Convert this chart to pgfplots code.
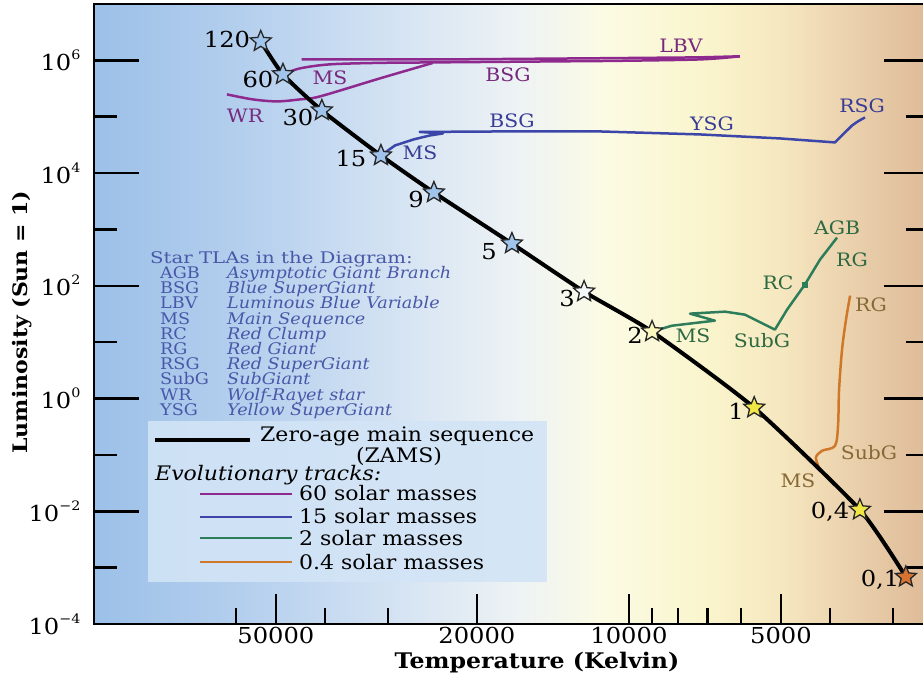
\documentclass[border=0pt]{standalone}
\usepackage{pgfplots}
\pgfplotsset{compat=1.18}
\usepackage{fontspec}
\setmainfont{DejaVu Serif}[FakeStretch=1.1]

% background gradient stops (blue -> white -> yellow -> tan)
\definecolor{bg0}{RGB}{156,192,232}
\definecolor{bg1}{RGB}{182,208,238}
\definecolor{bg2}{RGB}{214,228,243}
\definecolor{bg3}{RGB}{238,243,244}
\definecolor{bg4}{RGB}{251,251,228}
\definecolor{bg5}{RGB}{250,245,205}
\definecolor{bg6}{RGB}{246,232,192}
\definecolor{bg7}{RGB}{234,208,172}
\definecolor{bg8}{RGB}{222,186,152}
% evolutionary tracks
\definecolor{trkA}{RGB}{142,42,142}
\definecolor{trkB}{RGB}{60,70,168}
\definecolor{trkC}{RGB}{46,125,90}
\definecolor{trkD}{RGB}{208,120,42}
\definecolor{lblA}{RGB}{120,40,125}
\definecolor{lblB}{RGB}{55,60,150}
\definecolor{lblC}{RGB}{45,105,65}
\definecolor{lblD}{RGB}{135,105,55}
\definecolor{tla}{RGB}{72,88,168}
% star fills
\definecolor{starblue}{RGB}{160,196,236}
\definecolor{starwhite}{RGB}{245,248,250}
\definecolor{starpale}{RGB}{250,248,190}
\definecolor{staryel}{RGB}{240,230,70}
\definecolor{starorg}{RGB}{215,115,50}
\definecolor{legbox}{RGB}{210,228,246}

\pgfdeclarehorizontalshading{hrbg}{100bp}{color(0bp)=(bg0); color(25bp)=(bg0); color(34.5bp)=(bg1); color(43.5bp)=(bg2); color(50.5bp)=(bg3); color(55.5bp)=(bg4); color(61.5bp)=(bg5); color(66bp)=(bg6); color(70.5bp)=(bg7); color(75bp)=(bg8); color(100bp)=(bg8)}

% filled five-pointed star
\pgfdeclareplotmark{fivestar}{%
  \pgfpathmoveto{\pgfpointpolar{90}{\pgfplotmarksize}}%
  \pgfpathlineto{\pgfpointpolar{126}{0.45\pgfplotmarksize}}%
  \pgfpathlineto{\pgfpointpolar{162}{\pgfplotmarksize}}%
  \pgfpathlineto{\pgfpointpolar{198}{0.45\pgfplotmarksize}}%
  \pgfpathlineto{\pgfpointpolar{234}{\pgfplotmarksize}}%
  \pgfpathlineto{\pgfpointpolar{270}{0.45\pgfplotmarksize}}%
  \pgfpathlineto{\pgfpointpolar{306}{\pgfplotmarksize}}%
  \pgfpathlineto{\pgfpointpolar{342}{0.45\pgfplotmarksize}}%
  \pgfpathlineto{\pgfpointpolar{18}{\pgfplotmarksize}}%
  \pgfpathlineto{\pgfpointpolar{54}{0.45\pgfplotmarksize}}%
  \pgfpathclose
  \pgfusepathqfillstroke
}
% power-of-ten tick label
\newcommand{\tenpow}[1]{10\raisebox{0.5em}{\fontsize{13}{13}\selectfont #1}}

\begin{document}
\begin{tikzpicture}
\begin{axis}[
  at={(0pt,0pt)}, anchor=south west,
  scale only axis, width=835pt, height=620pt,
  xmode=log, ymode=log, x dir=reverse,
  xmin=2547, xmax=114600, ymin=1e-4, ymax=1e7,
  clip=false,
  axis background/.style={shading=hrbg},
  axis line style={line width=2.6pt, black},
  tick align=inside,
  xtick pos=left, ytick pos=both,
  xtick={5000,10000,20000,50000},
  xticklabels={5000,10000,20000,50000},
  minor xtick={3000,4000,6000,7000,8000,9000,30000,40000,60000},
  ytick={1e-4,1e-2,1,1e2,1e4,1e6},
  yticklabels={\tenpow{−4},\tenpow{−2},\tenpow{0},\tenpow{2},\tenpow{4},\tenpow{6}},
  minor ytick={1e-3,1e-1,10,1e3,1e5},
  every tick/.style={black, line width=2.6pt},
  x tick style={/pgfplots/major tick length=30pt, /pgfplots/minor tick length=16pt},
  y tick style={/pgfplots/major tick length=45pt, /pgfplots/minor tick length=23pt},
  tick label style={font=\fontsize{22}{22}\selectfont},
  yticklabel style={xshift=-10pt},
  xlabel={Temperature (Kelvin)},
  ylabel={Luminosity (Sun = 1)},
  every axis x label/.style={at={(axis description cs:0.5305,0)}, anchor=center, yshift=-39pt, font=\fontsize{21.5}{21.5}\selectfont\bfseries},
  every axis y label/.style={at={(axis description cs:-0.0862,0.487)}, anchor=center, rotate=90, font=\fontsize{20}{20}\selectfont\bfseries},
]
% 60 solar masses
\addplot[trkA, line width=2.5pt, smooth] coordinates {(48420,5.64e5) (44800,7.21e5) (39080,8.5e5) (31120,9.03e5) (24450,9.2e5) (13900,9.6e5) (10660,9.8e5) (7230,1.04e6) (6030,1.18e6)};
\addplot[trkA, line width=2.5pt] coordinates {(6030,1.18e6) (7230,1.13e6) (11410,1.09e6) (22600,1.04e6) (44460,1.04e6)};
\addplot[trkA, line width=2.5pt, smooth] coordinates {(24450,9.0e5) (31120,4.79e5) (40920,2.29e5) (44800,2.03e5) (49770,1.87e5) (55570,2.03e5) (62510,2.49e5)};
% 15 solar masses
\addplot[trkB, line width=2.5pt, line join=round] coordinates {(30980,2.05e4) (29060,3.09e4) (26680,3.96e4) (24780,4.65e4) (23350,5.05e4) (25960,5.37e4) (17990,5.48e4) (11410,5.48e4) (7230,4.85e4) (5023,4.12e4) (3909,3.50e4) (3735,5.26e4) (3617,7.0e4) (3522,8.26e4) (3410,9.73e4)};
% 2 solar masses
\addplot[trkC, line width=2.5pt, line join=round] coordinates {(9000,15.4) (8222,19.6) (6760,24.1) (7570,32.1) (6457,34.8) (5893,30.8) (5140,16.7) (4864,37.8) (4485,105) (4185,292) (3873,718)};
\addplot[trkC, only marks, mark=square*, mark size=2.5pt] coordinates {(4485,105)};
% 0.4 solar masses
\addplot[trkD, line width=2.5pt, smooth] coordinates {(4185,0.0543) (4265,0.0887) (4150,0.118) (3909,0.145) (3855,0.343) (3838,1.43) (3786,7.36) (3718,25.1) (3649,67)};
% zero-age main sequence
\addplot[black, line width=4pt, smooth, tension=0.35] coordinates {(53580,2.17e6) (48420,5.64e5) (40550,1.29e5) (30980,2.05e4) (24330,4520) (17050,562) (12270,78.8) (9000,15.4) (5650,0.687) (3490,0.0106) (2830,6.84e-4)};
% stars on the ZAMS
\addplot[only marks, mark=fivestar, mark size=11pt, mark options={fill=starblue, draw=black!85, line width=1.3pt}] coordinates {(53580,2.17e6) (48420,5.64e5) (40550,1.29e5) (30980,2.05e4) (24330,4520) (17050,562)};
\addplot[only marks, mark=fivestar, mark size=11pt, mark options={fill=starwhite, draw=black!85, line width=1.3pt}] coordinates {(12270,78.8)};
\addplot[only marks, mark=fivestar, mark size=11pt, mark options={fill=starpale, draw=black!85, line width=1.3pt}] coordinates {(9000,15.4)};
\addplot[only marks, mark=fivestar, mark size=11pt, mark options={fill=staryel, draw=black!85, line width=1.3pt}] coordinates {(5650,0.687) (3490,0.0106)};
\addplot[only marks, mark=fivestar, mark size=11pt, mark options={fill=starorg, draw=black!85, line width=1.3pt}] coordinates {(2830,6.84e-4)};
\end{axis}

\begin{scope}[x=1pt, y=-1pt, shift={(-94pt,624pt)}]
  % mass labels next to the stars
  \begin{scope}[every node/.style={anchor=base, font=\fontsize{22}{22}\selectfont, inner sep=0pt}]
    \node at (227,48) {120};
    \node at (258,88) {60};
    \node at (298,126) {30};
    \node at (351,167) {15};
    \node at (416,208) {9};
    \node at (489,260) {5};
    \node at (567,307) {3};
    \node at (635,344) {2};
    \node at (736,420) {1};
    \node at (830,519) {0,4};
    \node at (880,586) {0,1};
  \end{scope}
  % phase labels along the tracks
  \begin{scope}[every node/.style={anchor=base, font=\fontsize{18.5}{18.5}\selectfont, inner sep=0pt}]
    \node[lblA] at (681,53) {LBV};
    \node[lblA] at (508,82) {BSG};
    \node[lblA] at (330,85) {MS};
    \node[lblA] at (245,123) {WR};
    \node[lblB] at (512,128) {BSG};
    \node[lblB] at (420,160) {MS};
    \node[lblB] at (712,131) {YSG};
    \node[lblB] at (862,113) {RSG};
    \node[lblC] at (837,235) {AGB};
    \node[lblC] at (852,267) {RG};
    \node[lblC] at (778,290) {RC};
    \node[lblC] at (693,343) {MS};
    \node[lblC] at (762,348) {SubG};
    \node[lblD] at (871,312) {RG};
    \node[lblD] at (869,460) {SubG};
    \node[lblD] at (798,488) {MS};
  \end{scope}
  % abbreviation list
  \begin{scope}[every node/.style={anchor=base west, tla, font=\fontsize{16}{16}\selectfont, inner sep=0pt}]
    \node at (150,264) {\scalebox{1.12}[1]{Star TLAs in the Diagram:}};
    \foreach \ab/\txt [count=\i from 0] in {AGB/Asymptotic Giant Branch, BSG/Blue SuperGiant, LBV/Luminous Blue Variable, MS/Main Sequence, RC/Red Clump, RG/Red Giant, RSG/Red SuperGiant, SubG/SubGiant, WR/Wolf-Rayet star, YSG/Yellow SuperGiant}{
      \node at (160,278.5+15.2*\i) {\ab};
      \node at (227,278.5+15.2*\i) {\itshape\txt};
    }
  \end{scope}
  % legend
  \fill[legbox, opacity=0.9] (148,421) rectangle (547,582);
  \draw[black, line width=4pt] (155,440) -- (250,440);
  \begin{scope}[every node/.style={font=\fontsize{20}{20}\selectfont, inner sep=0pt}]
    \node[anchor=base west] at (260,442) {Zero-age main sequence};
    \node[anchor=base] at (399,463) {(ZAMS)};
    \node[anchor=base west] at (155,481) {\itshape Evolutionary tracks:};
    \draw[trkA, line width=2.5pt] (200,494) -- (292,494);
    \draw[trkB, line width=2.5pt] (200,517) -- (292,517);
    \draw[trkC, line width=2.5pt] (200,538) -- (292,538);
    \draw[trkD, line width=2.5pt] (200,562) -- (292,562);
    \node[anchor=base west] at (299,501) {60 solar masses};
    \node[anchor=base west] at (299,524) {15 solar masses};
    \node[anchor=base west] at (299,545) {2 solar masses};
    \node[anchor=base west] at (299,569) {0.4 solar masses};
  \end{scope}
\end{scope}
\pgfresetboundingbox
\useasboundingbox (-94pt,-56pt) rectangle (829pt,624pt);
\end{tikzpicture}
\end{document}
